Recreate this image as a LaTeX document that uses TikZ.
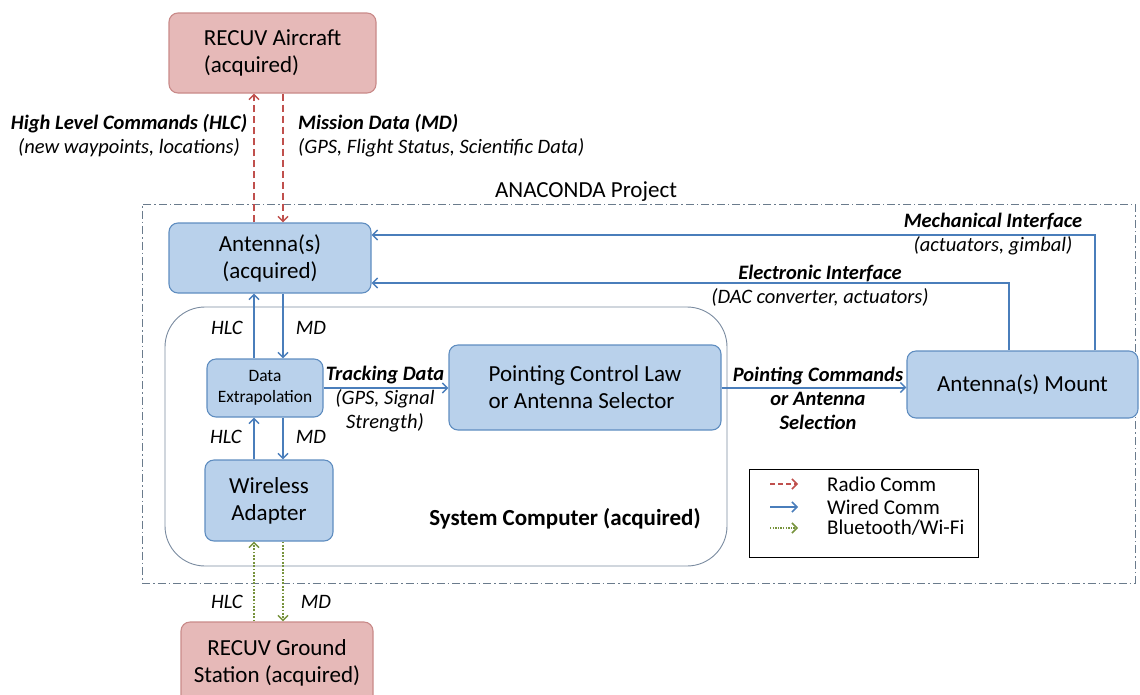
\documentclass[tikz,border=0pt]{standalone}
\usepackage{fontspec}
\setmainfont{Carlito}
\usetikzlibrary{arrows.meta,calc}
\definecolor{fillblue}{HTML}{B9D1EB}
\definecolor{boxblue}{HTML}{5F8DC0}
\definecolor{wireblue}{HTML}{4A7EBB}
\definecolor{pinkfill}{HTML}{E6B9B8}
\definecolor{pinkdraw}{HTML}{C98A89}
\definecolor{radred}{HTML}{C0504D}
\definecolor{btgreen}{HTML}{77933C}
\definecolor{scdraw}{HTML}{7A8BA0}
\definecolor{projdraw}{HTML}{6A7B8C}
\newcommand\mfs{\fontsize{23}{27}\selectfont}
\newcommand\lfs{\fontsize{20.5}{24}\selectfont}
\newcommand\sfs{\fontsize{17.4}{21}\selectfont}
\newcommand\gfs{\fontsize{21}{23}\selectfont}
\tikzset{
  bluebox/.style={draw=boxblue, fill=fillblue, rounded corners=9pt, line width=1.1pt, inner sep=0pt, align=center, font=\mfs},
  pinkbox/.style={draw=pinkdraw, fill=pinkfill, rounded corners=9pt, line width=1.1pt, inner sep=0pt, align=center, font=\mfs},
  tip/.style={-{Straight Barb[length=5pt,width=10pt,line width=1.5pt]}},
  wired/.style={draw=wireblue, line width=2pt, tip},
  radio/.style={draw=radred, line width=1.8pt, dash pattern=on 7pt off 4pt, tip},
  bt/.style={draw=btgreen, line width=1.8pt, dash pattern=on 1.8pt off 1.6pt, tip},
  lbl/.style={inner sep=0pt, font=\lfs, align=center},
  lgd/.style={inner sep=0pt, font=\gfs, anchor=west}
}
\begin{document}
\begin{tikzpicture}[x=1pt,y=-1pt]
\useasboundingbox (0,0) rectangle (1140,694);
% project frame
\node[draw=projdraw, line width=0.9pt, dash pattern=on 8pt off 3pt on 1.5pt off 3pt, minimum width=993pt, minimum height=379pt, inner sep=0pt] (proj) at (638.5,393.5) {};
\node[inner sep=0pt, font=\mfs] (projlbl) at (586,192) {ANACONDA Project};
% system computer
\node[draw=scdraw, line width=0.9pt, rounded corners=40pt, minimum width=562pt, minimum height=259pt, inner sep=0pt] (sc) at (446,436.5) {};
\node[inner sep=0pt, font=\mfs\bfseries] (sclbl) at (565,519) {System Computer (acquired)};
% boxes
\node[pinkbox, align=left, minimum width=207pt, minimum height=80pt] (air) at (272.5,53) {RECUV Aircraft\\(acquired)};
\node[bluebox, minimum width=202pt, minimum height=70pt] (ant) at (270,258) {Antenna(s)\\(acquired)};
\node[bluebox, font=\sfs, minimum width=116pt, minimum height=58pt] (de) at (265,388) {Data\\Extrapolation};
\node[bluebox, align=left, minimum width=272pt, minimum height=85pt] (pcl) at (585,387.5) {Pointing Control Law\\or Antenna Selector};
\node[bluebox, minimum width=231pt, minimum height=67pt] (mount) at (1022.5,384.5) {Antenna(s) Mount};
\node[bluebox, minimum width=128pt, minimum height=81pt] (wa) at (269,500.5) {Wireless\\Adapter};
\node[pinkbox, minimum width=192pt, minimum height=82pt] (gs) at (277,663) {RECUV Ground\\Station (acquired)};
% connector x positions
\coordinate (cL) at (254,0);
\coordinate (cR) at (283,0);
\coordinate (mech) at (1095,235);
\coordinate (elec) at (1009,283);
% radio
\draw[radio] (ant.north -| cL) -- (air.south -| cL);
\draw[radio] (air.south -| cR) -- (ant.north -| cR);
% wired vertical
\draw[wired] (de.north -| cL) -- (ant.south -| cL);
\draw[wired] (ant.south -| cR) -- (de.north -| cR);
\draw[wired] (wa.north -| cL) -- (de.south -| cL);
\draw[wired] (de.south -| cR) -- (wa.north -| cR);
% bluetooth
\draw[bt] (gs.north -| cL) -- (wa.south -| cL);
\draw[bt] (wa.south -| cR) -- (gs.north -| cR);
% horizontal
\draw[wired] (de.east) -- (de.east -| pcl.west);
\draw[wired] (pcl.east) -- (pcl.east -| mount.west);
\draw[wired] (mount.north -| mech) |- (ant.east |- mech);
\draw[wired] (mount.north -| elec) |- (ant.east |- elec);
% labels
\node[lbl] (hlcl) at (129,136) {\textbf{\textit{High Level Commands (HLC)}}\\\textit{(new waypoints, locations)}};
\node[lbl, align=left, anchor=west] (mdl) at (298,136) {\textbf{\textit{Mission Data (MD)}}\\\textit{(GPS, Flight Status, Scientific Data)}};
\node[lbl] (mechl) at (993,234.5) {\textbf{\textit{Mechanical Interface}}\\\textit{(actuators, gimbal)}};
\node[lbl] (elecl) at (820,286) {\textbf{\textit{Electronic Interface}}\\\textit{(DAC converter, actuators)}};
\node[lbl] (trk) at (385,399) {\textbf{\textit{Tracking Data}}\\\textit{(GPS, Signal}\\\textit{Strength)}};
\node[lbl] (pcmd) at (818,398) {\textbf{\textit{Pointing Commands}}\\\textbf{\textit{or Antenna}}\\\textbf{\textit{Selection}}};
\node[lbl] (h1) at (227,328) {\textit{HLC}};
\node[lbl] (m1) at (311,328) {\textit{MD}};
\node[lbl] (h2) at (226,437) {\textit{HLC}};
\node[lbl] (m2) at (311,437) {\textit{MD}};
\node[lbl] (h3) at (227,602) {\textit{HLC}};
\node[lbl] (m3) at (316,602) {\textit{MD}};
% legend
\node[draw=black, line width=0.9pt, minimum width=229pt, minimum height=88pt, inner sep=0pt] (leg) at (863.5,513) {};
\coordinate (la1) at (770,484);
\coordinate (lb1) at (798,484);
\coordinate (la2) at (770,507);
\coordinate (lb2) at (798,507);
\coordinate (la3) at (770,528);
\coordinate (lb3) at (798,528);
\draw[radio, line width=1.3pt, dash pattern=on 5pt off 3pt] (la1) -- (lb1);
\draw[wired, line width=1.5pt] (la2) -- (lb2);
\draw[bt, line width=1.3pt, dash pattern=on 1.3pt off 1.3pt] (la3) -- (lb3);
\node[lgd] (t1) at (827,484) {Radio Comm};
\node[lgd] (t2) at (827,507) {Wired Comm};
\node[lgd] (t3) at (827,528) {Bluetooth/Wi-Fi};
\end{tikzpicture}
\end{document}
